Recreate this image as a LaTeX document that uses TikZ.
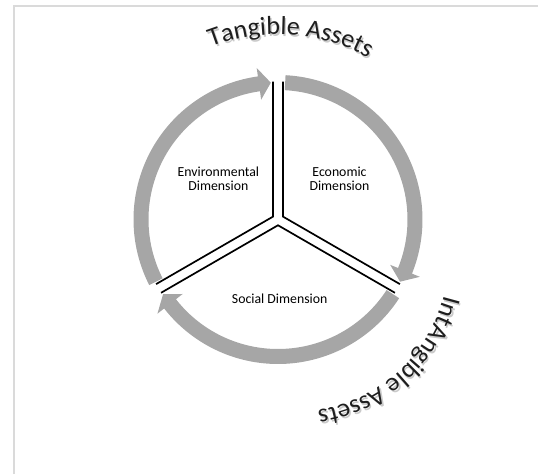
\documentclass[tikz,border=0pt]{standalone}
\usepackage{fontspec}
\setmainfont{Carlito}
\usetikzlibrary{decorations.text}

\definecolor{ringgray}{RGB}{166,166,166}
\definecolor{framegray}{RGB}{218,218,218}
\definecolor{titleink}{RGB}{30,30,30}

\tikzset{
  frameline/.style={draw=framegray, line width=1.8pt},
  divider/.style={draw=black, line width=1.7pt, line join=miter},
  cyclearrow/.style={fill=ringgray},
  dimlabel/.style={font=\fontsize{13.8}{13.3}\selectfont, align=center, inner sep=0pt},
}
\newcommand{\assetfont}{\fontsize{26}{30}\selectfont}

% one segment of the grey ring: flat start at #1, arrow tip at #2 (clockwise)
\newcommand{\cyclearc}[2]{%
  \pgfmathsetmacro{\headbase}{#2+5}%
  \fill[cyclearrow] (#1:144.5) arc[start angle=#1, end angle=\headbase, radius=144.5]
    -- (\headbase:153) -- (#2:137) -- (\headbase:121) -- (\headbase:129.5)
    arc[start angle=\headbase, end angle=#1, radius=129.5] -- cycle;
}

% curved heading with a soft drop shadow
% #1 arc centre, #2 mid angle, #3 radius, #4 text, #5 half span
\newcommand{\arclabel}[5]{%
  \begin{scope}[shift={(#1)}]
    \begin{scope}[opacity=0.35, shift={(1.4,-1.8)}]
      \path[decorate, decoration={text along path, text align=center,
        text color=black!60, text={|\assetfont|#4}}]
        ({#2+#5}:#3) arc[start angle={#2+#5}, end angle={#2-#5}, radius=#3];
    \end{scope}
    \path[decorate, decoration={text along path, text align=center,
      text color=titleink, text={|\assetfont|#4}}]
      ({#2+#5}:#3) arc[start angle={#2+#5}, end angle={#2-#5}, radius=#3];
  \end{scope}
}

\begin{document}
\begin{tikzpicture}[x=1pt, y=1pt]
  \useasboundingbox (-278,-254.5) rectangle (260,219.5);

  % page frame
  \draw[frameline] (-264.3,-254.5) -- (-264.3,213.5) -- (260,213.5);

  % ring of three arrows
  \cyclearc{87}{-27}
  \cyclearc{-33}{-147}
  \cyclearc{207}{93}

  % the Y-shaped double divider
  \coordinate (ulTop)    at (-5,137.9);
  \coordinate (ulCorner) at (150:5.77);
  \coordinate (ulEnd)    at ([shift={(120:5)}]210:137.9);
  \coordinate (urTop)    at (5,137.9);
  \coordinate (urCorner) at (30:5.77);
  \coordinate (urEnd)    at ([shift={(60:5)}]-30:137.9);
  \coordinate (loLeft)   at ([shift={(300:5)}]210:137.9);
  \coordinate (loApex)   at (270:5.77);
  \coordinate (loRight)  at ([shift={(240:5)}]-30:137.9);
  \draw[divider] (ulTop) -- (ulCorner) -- (ulEnd);
  \draw[divider] (urTop) -- (urCorner) -- (urEnd);
  \draw[divider] (loLeft) -- (loApex) -- (loRight);

  % sector labels (base = baseline of the last line)
  \node[dimlabel, anchor=base] (env) at (-59.6,29.5) {Environmental\\Dimension};
  \node[dimlabel, anchor=base] (eco) at (61.5,29.5) {Economic\\Dimension};
  \node[dimlabel, anchor=base] (soc) at (1.7,-83.8) {Social Dimension};

  % curved headings
  \arclabel{0,0}{86}{185}{Tangible Assets}{40}
  \arclabel{18,-39}{-48}{153}{IntAngible Assets}{50}
\end{tikzpicture}
\end{document}
